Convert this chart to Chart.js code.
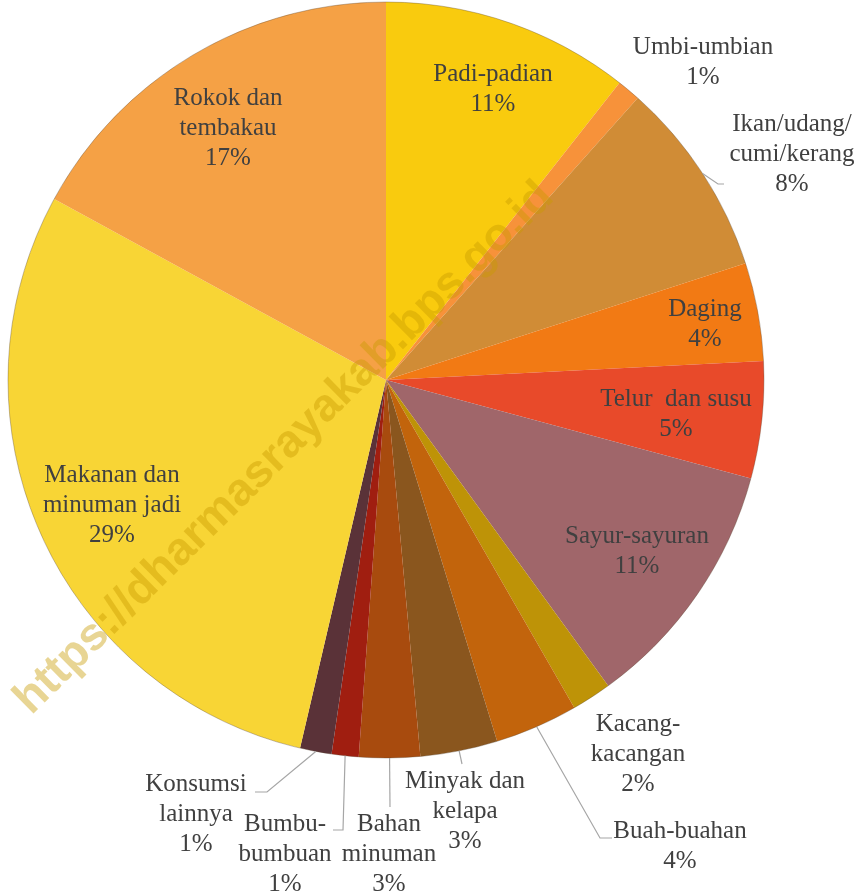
<!DOCTYPE html>
<html>
<head>
<meta charset="utf-8">
<script src="https://cdn.jsdelivr.net/npm/chart.js@4.4.1/dist/chart.umd.min.js"></script>
</head>
<body style="margin:0">
<div style="width:864px;height:894px"><canvas id="c" width="864" height="894"></canvas></div>
<script>
// ---- Data ----
const categories = [
  'Padi-padian', 'Umbi-umbian', 'Ikan/udang/cumi/kerang', 'Daging', 'Telur dan susu',
  'Sayur-sayuran', 'Kacang-kacangan', 'Buah-buahan', 'Minyak dan kelapa', 'Bahan minuman',
  'Bumbu-bumbuan', 'Konsumsi lainnya', 'Makanan dan minuman jadi', 'Rokok dan tembakau'
];
const shares = [10.6, 1.0, 8.4, 4.2, 5.0, 10.8, 1.7, 3.55, 3.3, 2.6, 1.15, 1.35, 29.3, 17.05];
const percentLabels = ['11%', '1%', '8%', '4%', '5%', '11%', '2%', '4%', '3%', '3%', '1%', '1%', '29%', '17%'];
const labelLines = [
  ['Padi-padian'], ['Umbi-umbian'], ['Ikan/udang/', 'cumi/kerang'], ['Daging'], ['Telur  dan susu'],
  ['Sayur-sayuran'], ['Kacang-', 'kacangan'], ['Buah-buahan'], ['Minyak dan', 'kelapa'], ['Bahan', 'minuman'],
  ['Bumbu-', 'bumbuan'], ['Konsumsi', 'lainnya'], ['Makanan dan', 'minuman jadi'], ['Rokok dan', 'tembakau']
];
const colors = [
  '#F9CB0E', '#F7923A', '#D08C36', '#F27A14', '#E84A2A',
  '#A0666A', '#BE9307', '#C2640C', '#8A561E', '#A84B0E',
  '#A01E10', '#5A3238', '#F8D535', '#F5A145'
];
const watermarkText = 'https://dharmasrayakab.bps.go.id';

// ---- Label layout (text anchor: centre x, centre y of first line; optional leader elbow points) ----
const labelLayout = [
  { x: 493, y: 73 },
  { x: 703, y: 46 },
  { x: 792, y: 123, leader: [[718, 184], [724, 184]] },
  { x: 705, y: 308 },
  { x: 676, y: 398 },
  { x: 637, y: 535 },
  { x: 638, y: 723 },
  { x: 680, y: 830, leader: [[600, 838], [612, 838]] },
  { x: 465, y: 780, leader: [[462, 764]] },
  { x: 389, y: 823, leader: [[390, 807]] },
  { x: 285, y: 823, leader: [[343, 830], [333, 830]] },
  { x: 196, y: 783, leader: [[267, 792], [255, 792]] },
  { x: 112, y: 474 },
  { x: 228, y: 97 }
];
const LINE_H = 30;

const labelPlugin = {
  id: 'sliceLabels',
  afterDraw(chart) {
    const ctx = chart.ctx;
    const meta = chart.getDatasetMeta(0);
    ctx.save();
    // soft outline around the pie
    const a0 = meta.data[0].getProps(['x', 'y', 'outerRadius'], true);
    ctx.strokeStyle = 'rgba(90,70,50,0.35)';
    ctx.lineWidth = 1;
    ctx.beginPath();
    ctx.arc(a0.x, a0.y, a0.outerRadius, 0, Math.PI * 2);
    ctx.stroke();
    // leader lines
    ctx.strokeStyle = '#a6a6a6';
    ctx.lineWidth = 1.2;
    meta.data.forEach((arc, i) => {
      const lay = labelLayout[i];
      if (!lay.leader) return;
      const p = arc.getProps(['x', 'y', 'startAngle', 'endAngle', 'outerRadius'], true);
      const mid = (p.startAngle + p.endAngle) / 2;
      ctx.beginPath();
      ctx.moveTo(p.x + p.outerRadius * Math.cos(mid), p.y + p.outerRadius * Math.sin(mid));
      lay.leader.forEach(pt => ctx.lineTo(pt[0], pt[1]));
      ctx.stroke();
    });
    ctx.restore();

    // texts (left / alphabetic, centred by measuring)
    ctx.save();
    ctx.font = '25px "Liberation Serif"';
    ctx.fillStyle = '#404040';
    meta.data.forEach((arc, i) => {
      const lay = labelLayout[i];
      const lines = labelLines[i].concat([percentLabels[i]]);
      lines.forEach((t, k) => {
        const w = ctx.measureText(t).width;
        ctx.fillText(t, lay.x - w / 2, lay.y + k * LINE_H + 8);
      });
    });
    ctx.restore();

    // watermark
    ctx.save();
    ctx.translate(282, 446);
    ctx.rotate(-44.6 * Math.PI / 180);
    ctx.font = 'bold 46px "Liberation Sans"';
    ctx.fillStyle = 'rgba(200,155,0,0.42)';
    const ww = ctx.measureText(watermarkText).width;
    ctx.fillText(watermarkText, -ww / 2, 16);
    ctx.restore();
  }
};

new Chart(document.getElementById('c'), {
  type: 'pie',
  data: {
    labels: categories,
    datasets: [{ data: shares, backgroundColor: colors, borderWidth: 0 }]
  },
  options: {
    responsive: false,
    animation: false,
    layout: { padding: { left: 8, top: 2, right: 100, bottom: 136 } },
    plugins: {
      legend: { display: false },
      tooltip: { enabled: false },
      title: { display: false }
    }
  },
  plugins: [labelPlugin]
});
</script>
</body>
</html>
